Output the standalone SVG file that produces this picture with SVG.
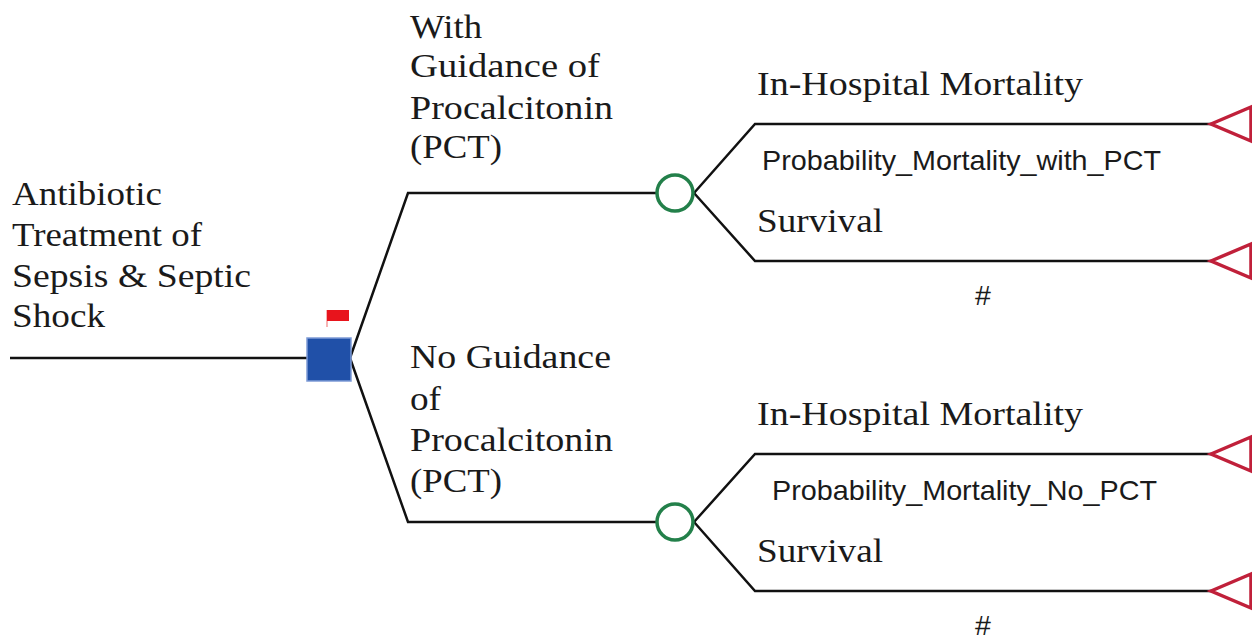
<svg xmlns="http://www.w3.org/2000/svg" width="1252" height="640" viewBox="0 0 1252 640">
<style>
.ln{fill:none;stroke:#111;stroke-width:2.5;stroke-linejoin:miter}
.serif{font-family:"Liberation Serif","Times New Roman",serif;font-size:34px;fill:#1a1a1a}
.sans{font-family:"Liberation Sans",Arial,sans-serif;font-size:28.5px;fill:#1a1a1a}
.chance{fill:#fff;stroke:#23804a;stroke-width:3.5}
.term{fill:#fff;stroke:#c0203a;stroke-width:3.5;stroke-linejoin:miter}
</style>
<rect width="1252" height="640" fill="#fff"/>
<g id="connectors">
<path class="ln" d="M10 358 H308"/>
<path class="ln" d="M350 358 L408 193 H656"/>
<path class="ln" d="M350 358 L408 522 H656"/>
<path class="ln" d="M694 193 L755 124 H1211"/>
<path class="ln" d="M694 193 L755 261 H1211"/>
<path class="ln" d="M694 522 L755 454 H1211"/>
<path class="ln" d="M694 522 L755 591 H1211"/>
</g>
<g id="root-label">
<text class="serif" x="12" y="205" textLength="150" lengthAdjust="spacingAndGlyphs">Antibiotic</text>
<text class="serif" x="12" y="246" textLength="190" lengthAdjust="spacingAndGlyphs">Treatment of</text>
<text class="serif" x="12" y="287" textLength="239" lengthAdjust="spacingAndGlyphs">Sepsis &amp; Septic</text>
<text class="serif" x="12" y="327" textLength="93" lengthAdjust="spacingAndGlyphs">Shock</text>
</g>
<g id="decision">
<rect x="307" y="338" width="44" height="43" fill="#2050a8" stroke="#7d9bd6" stroke-width="1.5"/>
<line x1="327" y1="310" x2="327" y2="327" stroke="#f08080" stroke-width="1.2"/>
<rect x="327" y="310" width="22" height="11" fill="#e8141c"/>
</g>
<g id="branch-with">
<text class="serif" x="410" y="38" textLength="72" lengthAdjust="spacingAndGlyphs">With</text>
<text class="serif" x="410" y="77" textLength="190" lengthAdjust="spacingAndGlyphs">Guidance of</text>
<text class="serif" x="410" y="119" textLength="203" lengthAdjust="spacingAndGlyphs">Procalcitonin</text>
<text class="serif" x="410" y="158" textLength="92" lengthAdjust="spacingAndGlyphs">(PCT)</text>
</g>
<g id="branch-no">
<text class="serif" x="410" y="368" textLength="201" lengthAdjust="spacingAndGlyphs">No Guidance</text>
<text class="serif" x="410" y="410" textLength="31" lengthAdjust="spacingAndGlyphs">of</text>
<text class="serif" x="410" y="451" textLength="203" lengthAdjust="spacingAndGlyphs">Procalcitonin</text>
<text class="serif" x="410" y="492" textLength="92" lengthAdjust="spacingAndGlyphs">(PCT)</text>
</g>
<g id="chance-with">
<circle class="chance" cx="675" cy="193" r="18"/>
</g>
<g id="chance-no">
<circle class="chance" cx="675" cy="522" r="18"/>
</g>
<g id="outcomes-with">
<text class="serif" x="757" y="95" textLength="326" lengthAdjust="spacingAndGlyphs">In-Hospital Mortality</text>
<text class="sans" x="762" y="170" textLength="399" lengthAdjust="spacingAndGlyphs">Probability_Mortality_with_PCT</text>
<text class="serif" x="757" y="232" textLength="126" lengthAdjust="spacingAndGlyphs">Survival</text>
<text class="sans" x="983" y="305" text-anchor="middle">#</text>
</g>
<g id="outcomes-no">
<text class="serif" x="757" y="425" textLength="326" lengthAdjust="spacingAndGlyphs">In-Hospital Mortality</text>
<text class="sans" x="772" y="500" textLength="385" lengthAdjust="spacingAndGlyphs">Probability_Mortality_No_PCT</text>
<text class="serif" x="757" y="562" textLength="126" lengthAdjust="spacingAndGlyphs">Survival</text>
<text class="sans" x="983" y="635" text-anchor="middle">#</text>
</g>
<g id="terminal-1"><path class="term" d="M1211 124 L1251 107 V141 Z"/></g>
<g id="terminal-2"><path class="term" d="M1211 261 L1251 244 V278 Z"/></g>
<g id="terminal-3"><path class="term" d="M1211 454 L1251 437 V471 Z"/></g>
<g id="terminal-4"><path class="term" d="M1211 591 L1251 574 V608 Z"/></g>
</svg>
